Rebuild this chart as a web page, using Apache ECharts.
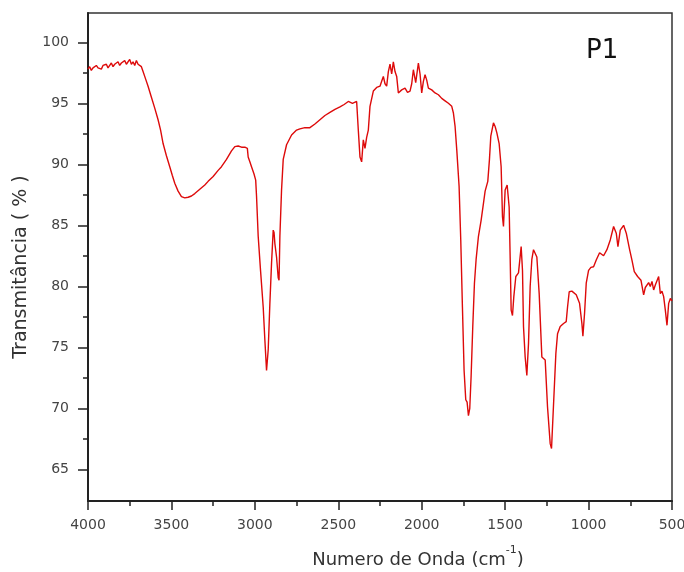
<!DOCTYPE html>
<html>
<head>
<meta charset="utf-8">
<script src="https://cdn.jsdelivr.net/npm/echarts@6/dist/echarts.min.js"></script>
<style>
	html, body { margin: 0; padding: 0; background: #fff; }
	#chart { width: 684px; height: 572px; }
</style>
</head>
<body>
<div id="chart"></div>
<script>
	// numero de onda (cm-1)
	var waveNumbers = [4000, 3990, 3980, 3970, 3960, 3950, 3940, 3930, 3920, 3910, 3900, 3890, 3880, 3870, 3860, 3850, 3840, 3830, 3820, 3810,
		3800, 3790, 3780, 3770, 3760, 3750, 3740, 3730, 3720, 3710, 3700, 3690, 3680, 3670, 3655, 3640, 3620, 3600, 3580, 3565,
		3550, 3530, 3510, 3495, 3480, 3460, 3440, 3420, 3400, 3380, 3360, 3330, 3300, 3280, 3250, 3220, 3200, 3170, 3140, 3120,
		3100, 3080, 3060, 3045, 3040, 3030, 3020, 3005, 2995, 2990, 2980, 2966, 2950, 2940, 2930, 2925, 2920, 2910, 2900, 2890,
		2885, 2880, 2870, 2860, 2855, 2850, 2840, 2830, 2810, 2780, 2750, 2730, 2700, 2670, 2640, 2610, 2580, 2550, 2520, 2490,
		2465, 2440, 2415, 2390, 2380, 2370, 2360, 2350, 2340, 2330, 2320, 2310, 2290, 2270, 2250, 2240, 2230, 2220, 2210, 2200,
		2190, 2180, 2170, 2160, 2150, 2140, 2120, 2100, 2085, 2070, 2060, 2050, 2036, 2020, 2010, 2000, 1990, 1980, 1970, 1960,
		1940, 1920, 1900, 1880, 1860, 1840, 1820, 1810, 1800, 1790, 1776, 1766, 1756, 1746, 1736, 1728, 1720, 1712, 1704, 1694,
		1684, 1674, 1660, 1644, 1630, 1620, 1604, 1594, 1586, 1570, 1560, 1550, 1536, 1524, 1516, 1510, 1500, 1488, 1476, 1470,
		1464, 1456, 1448, 1436, 1420, 1404, 1396, 1390, 1380, 1370, 1360, 1350, 1340, 1330, 1310, 1296, 1280, 1260, 1246, 1230,
		1222, 1214, 1206, 1196, 1186, 1170, 1150, 1134, 1126, 1116, 1100, 1074, 1054, 1040, 1034, 1024, 1014, 1000, 986, 970,
		954, 934, 910, 890, 870, 850, 834, 824, 810, 790, 774, 754, 740, 726, 706, 686, 670, 660, 650, 640,
		630, 620, 610, 600, 590, 580, 570, 560, 550, 540, 530, 520, 510, 500];

	// transmitancia (%)
	var transmittance = [97.8, 98.0, 97.7, 97.9, 97.8, 98.1, 97.9, 98.0, 97.8, 98.1, 98.0, 98.2, 97.9, 98.1, 98.3, 98.0, 98.2, 98.1, 98.4, 98.1,
		98.3, 98.2, 98.5, 98.2, 98.3, 98.6, 98.2, 98.4, 98.1, 98.5, 98.2, 98.3, 98.0, 97.6, 97.0, 96.4, 95.5, 94.6, 93.65, 92.8,
		91.7, 90.7, 89.8, 89.1, 88.45, 87.8, 87.35, 87.25, 87.3, 87.4, 87.6, 87.95, 88.3, 88.6, 89.0, 89.5, 89.8, 90.4, 91.1, 91.45,
		91.5, 91.4, 91.4, 91.3, 90.6, 90.2, 89.8, 89.2, 88.7, 87.4, 84.1, 81.3, 78.3, 75.6, 73.1, 73.0, 74.8, 78.6, 81.9, 84.6,
		84.4, 83.5, 82.4, 80.7, 80.5, 84.1, 87.9, 90.4, 91.6, 92.4, 92.8, 92.9, 93.0, 93.0, 93.3, 93.65, 94.0, 94.25, 94.5, 94.7,
		94.9, 95.15, 95.0, 95.15, 92.8, 90.6, 90.2, 92.0, 91.3, 92.2, 92.8, 94.75, 96.0, 96.3, 96.4, 96.8, 97.2, 96.6, 96.4, 97.6,
		98.2, 97.4, 98.4, 97.6, 97.2, 95.85, 96.1, 96.25, 95.9, 96.0, 96.6, 97.75, 96.7, 98.3, 97.4, 95.85, 96.8, 97.35, 96.9, 96.25,
		96.1, 95.85, 95.7, 95.4, 95.2, 95.0, 94.75, 94.2, 93.1, 91.2, 88.2, 83.8, 78.3, 73.1, 70.7, 70.5, 69.4, 70.0, 72.6, 76.7,
		80.25, 82.2, 84.1, 85.4, 86.8, 87.8, 88.6, 90.4, 92.3, 93.4, 93.1, 92.6, 91.7, 89.8, 85.7, 84.9, 87.9, 88.3, 86.5, 82.4,
		78.05, 77.6, 79.15, 80.8, 81.1, 83.25, 81.3, 76.7, 74.2, 72.7, 75.3, 80.0, 82.2, 83.0, 82.4, 79.4, 74.2, 73.95, 70.1, 67.1,
		66.7, 66.8, 71.5, 74.5, 76.1, 76.7, 76.95, 77.1, 78.3, 79.55, 79.6, 79.3, 78.6, 76.95, 75.9, 77.8, 80.25, 81.3, 81.55, 81.6,
		82.15, 82.75, 82.5, 83.0, 83.8, 84.9, 84.35, 83.25, 84.6, 85.0, 84.35, 83.0, 82.15, 81.2, 80.8, 80.5, 79.3, 79.9, 79.85, 80.3,
		79.98, 80.4, 79.7, 80.1, 80.25, 80.8, 79.4, 79.6, 79.15, 78.05, 76.8, 78.6, 79.0, 78.8];

	var yTicks = [65, 70, 75, 80, 85, 90, 95, 100];
	var yMinorTicks = [67.5, 72.5, 77.5, 82.5, 87.5, 92.5, 97.5];

	var seriesData = [];
	for(var i = 0; i < waveNumbers.length; i++) {
		seriesData.push([waveNumbers[i], transmittance[i]]);
	}

	var axisColor = '#222';
	var labelStyle = {
		color: '#444',
		fontSize: 14,
		fontFamily: 'DejaVu Sans'
	};

	var chart = echarts.init(document.getElementById('chart'), null, { renderer: 'canvas' });
	chart.setOption({
		animation: false,
		backgroundColor: '#fff',
		title: {
			text: 'P1',
			left: 586,
			top: 38,
			padding: 0,
			textStyle: {
				color: '#111',
				fontSize: 26,
				fontWeight: 'normal',
				fontFamily: 'DejaVu Sans'
			}
		},
		grid: {
			left: 88,
			right: 12,
			top: 13,
			bottom: 71,
			outerBoundsMode: 'none',
			show: true,
			borderColor: '#333',
			borderWidth: 1.5
		},
		xAxis: {
			type: 'value',
			inverse: true,
			min: 500,
			max: 4000,
			interval: 500,
			name: '{n|Numero de Onda (cm}{sup|-1}{n|)}',
			nameLocation: 'middle',
			nameGap: 44,
			nameTextStyle: {
				padding: [0, 0, 0, 76],
				rich: {
					n: {
						color: '#333',
						fontSize: 18,
						lineHeight: 24,
						fontFamily: 'DejaVu Sans',
						verticalAlign: 'bottom'
					},
					sup: {
						color: '#333',
						fontSize: 11,
						lineHeight: 11,
						fontFamily: 'DejaVu Sans',
						verticalAlign: 'top'
					}
				}
			},
			axisLine: { lineStyle: { color: axisColor, width: 2 } },
			axisTick: { length: 9, lineStyle: { color: axisColor, width: 1.5 } },
			minorTick: { show: true, splitNumber: 2, length: 5, lineStyle: { color: axisColor, width: 1.5 } },
			splitLine: { show: false },
			axisLabel: Object.assign({
				margin: 17,
				formatter: function(value) {
					return String(value);
				}
			}, labelStyle)
		},
		yAxis: [{
			type: 'value',
			min: 62.4,
			max: 102.4,
			axisLine: { show: true, lineStyle: { color: axisColor, width: 2 } },
			axisTick: { show: true, length: 10, customValues: yTicks, lineStyle: { color: axisColor, width: 1.5 } },
			splitLine: { show: false },
			axisLabel: Object.assign({ margin: 19, customValues: yTicks }, labelStyle)
		}, {
			type: 'value',
			position: 'left',
			min: 62.4,
			max: 102.4,
			axisLine: { show: false },
			axisTick: { show: true, length: 5, customValues: yMinorTicks, lineStyle: { color: axisColor, width: 1.5 } },
			splitLine: { show: false },
			axisLabel: { show: false }
		}],
		graphic: [{
			type: 'text',
			x: 21,
			y: 267,
			rotation: Math.PI / 2,
			style: {
				text: 'Transmitância ( % )',
				fill: '#333',
				fontSize: 19,
				fontFamily: 'DejaVu Sans',
				align: 'center',
				verticalAlign: 'middle'
			}
		}],
		series: [{
			type: 'line',
			xAxisIndex: 0,
			yAxisIndex: 0,
			data: seriesData,
			symbol: 'none',
			lineStyle: { color: '#dd0a0a', width: 1.4 }
		}]
	});
</script>
</body>
</html>
